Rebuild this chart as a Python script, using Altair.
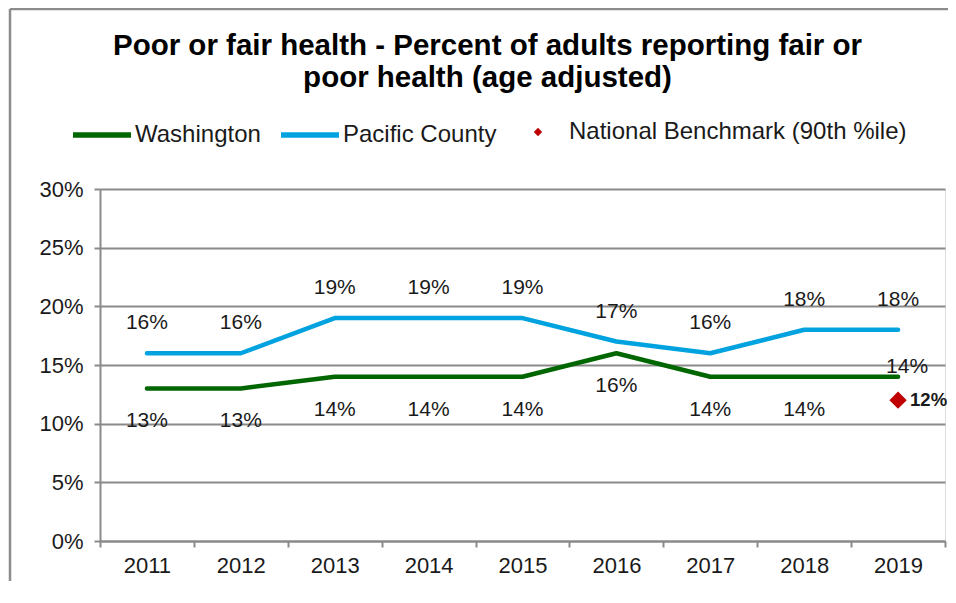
import altair as alt
import pandas as pd

years = ["2011", "2012", "2013", "2014", "2015", "2016", "2017", "2018", "2019"]
washington = [13, 13, 14, 14, 14, 16, 14, 14, 14]
pacific = [16, 16, 19, 19, 19, 17, 16, 18, 18]
bench_year = ["2019"]
bench_value = [12]

S_WA = "Washington"
S_PC = "Pacific County"
S_NB = "National Benchmark (90th %ile)"

rows = []
for y, w, p in zip(years, washington, pacific):
    rows.append({"year": y, "value": w, "series": S_WA})
    rows.append({"year": y, "value": p, "series": S_PC})
df = pd.DataFrame(rows)
bench = pd.DataFrame({"year": bench_year, "value": bench_value, "series": [S_NB]})

FONT = "Liberation Sans"
W, H = 845, 352
PAD = {"left": 92, "top": 181, "right": 3, "bottom": 40}

x_enc = alt.X(
    "year:N",
    sort=years,
    scale=alt.Scale(type="band", paddingInner=0, paddingOuter=0),
    axis=alt.Axis(
        title=None, labelAngle=0, tickBand="extent", grid=False,
        domainColor="#8a8a8a", domainWidth=2, tickColor="#8a8a8a", tickWidth=2,
        tickSize=6, labelFontSize=22, labelFont=FONT, labelColor="#1a1a1a",
        labelPadding=8,
    ),
)
y_enc = alt.Y(
    "value:Q",
    scale=alt.Scale(domain=[0, 30], nice=False),
    axis=alt.Axis(
        title=None, values=[0, 5, 10, 15, 20, 25, 30], labelExpr="datum.value + '%'",
        grid=True, gridColor="#8a8a8a", gridWidth=2, domainColor="#8a8a8a", domainWidth=2,
        tickColor="#8a8a8a", tickWidth=2, tickSize=6, labelFontSize=22, labelFont=FONT,
        labelColor="#1a1a1a", labelPadding=11,
    ),
)

frame_df = pd.DataFrame({"a": [0]})
border_left = alt.Chart(frame_df).mark_rule(stroke="#8c8c8c", strokeWidth=2.5).encode(
    x=alt.value(-90), y=alt.value(-180), y2=alt.value(H + PAD["bottom"])
)
border_top = alt.Chart(frame_df).mark_rule(stroke="#8c8c8c", strokeWidth=2.5).encode(
    x=alt.value(-90), x2=alt.value(W + PAD["right"]), y=alt.value(-180)
)

lines = alt.Chart(df).mark_line(strokeWidth=4.5, strokeCap="round", strokeJoin="round").encode(
    x=x_enc,
    y=y_enc,
    stroke=alt.Stroke(
        "series:N",
        scale=alt.Scale(domain=[S_WA, S_PC], range=["#006600", "#00A3E0"]),
        legend=alt.Legend(
            title=None, orient="none", legendX=-30, legendY=-86, direction="horizontal",
            symbolType="stroke", symbolSize=3364, symbolStrokeWidth=5.5,
            labelFontSize=24, labelFont=FONT, labelColor="#1a1a1a",
            labelOffset=1, columnPadding=9, labelLimit=400,
        ),
    ),
    detail="series:N",
)

pc_labels = alt.Chart(df).transform_filter(
    alt.datum.series == S_PC
).transform_calculate(label="datum.value + '%'").mark_text(
    dy=-30, fontSize=21, font=FONT, color="#1a1a1a"
).encode(x=alt.X("year:N", sort=years), y="value:Q", text="label:N")

wa_labels = alt.Chart(df).transform_filter(
    (alt.datum.series == S_WA) & (alt.datum.year != "2019")
).transform_calculate(label="datum.value + '%'").mark_text(
    dy=33, fontSize=21, font=FONT, color="#1a1a1a"
).encode(x=alt.X("year:N", sort=years), y="value:Q", text="label:N")

wa_last = alt.Chart(df).transform_filter(
    (alt.datum.series == S_WA) & (alt.datum.year == "2019")
).transform_calculate(label="datum.value + '%'").mark_text(
    dy=-10, dx=9, fontSize=21, font=FONT, color="#1a1a1a"
).encode(x=alt.X("year:N", sort=years), y="value:Q", text="label:N")

bench_pt = alt.Chart(bench).mark_point(filled=True, size=300, opacity=1).encode(
    x=alt.X("year:N", sort=years),
    y="value:Q",
    fill=alt.Fill(
        "series:N",
        scale=alt.Scale(domain=[S_NB], range=["#C00000"]),
        legend=alt.Legend(
            title=None, orient="none", legendX=426, legendY=-69,
            symbolSize=70, labelFontSize=24, labelFont=FONT, labelColor="#1a1a1a",
            labelOffset=19, labelLimit=500,
        ),
    ),
    shape=alt.Shape("series:N", scale=alt.Scale(domain=[S_NB], range=["diamond"])),
)

bench_lbl = alt.Chart(bench).transform_calculate(label="datum.value + '%'").mark_text(
    align="left", dx=12, fontSize=18.5, fontWeight="bold", font=FONT, color="#1a1a1a"
).encode(x=alt.X("year:N", sort=years), y="value:Q", text="label:N")

chart = alt.layer(
    border_left, border_top, lines, pc_labels, wa_labels, wa_last, bench_pt, bench_lbl
).properties(
    width=W,
    height=H,
    title=alt.TitleParams(
        text=["Poor or fair health - Percent of adults reporting fair or",
              "poor health (age adjusted)"],
        fontSize=29.5, font=FONT, fontWeight="bold", color="#000000",
        anchor="middle", dx=-35, offset=-86, lineHeight=32,
    ),
    autosize=alt.AutoSizeParams(type="none"),
    padding=PAD,
).configure_view(
    fill="#F0F0F0", stroke="#8a8a8a", strokeWidth=2
).configure(background="white")

chart.save("out.html", embed_options={"renderer": "svg", "actions": False})
